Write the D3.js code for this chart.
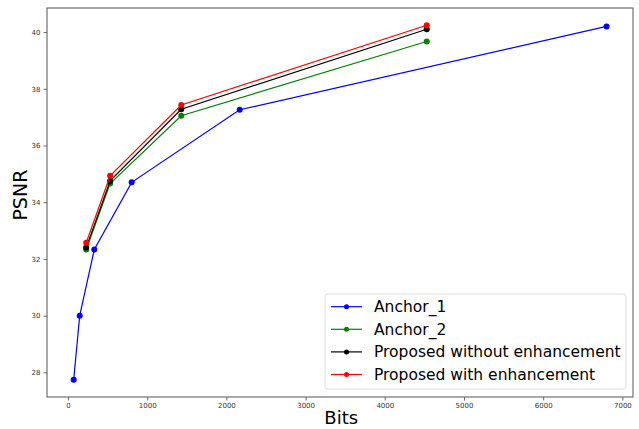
<!DOCTYPE html>
<html>
<head>
<meta charset="utf-8">
<script src="https://cdn.jsdelivr.net/npm/d3@7"></script>
<style>
  body { margin: 0; background: #fff; }
  svg { display: block; font-family: "DejaVu Sans", sans-serif; }
</style>
</head>
<body>
<div id="chart"></div>
<script>
// --- Data ---
const anchor1Bits = [72, 148, 332, 804, 2168, 6800];
const anchor1Psnr = [27.74, 30.0, 32.33, 34.7, 37.26, 40.2];

const anchor2Bits = [230, 532, 1430, 4530];
const anchor2Psnr = [32.33, 34.66, 37.05, 39.67];

const noEnhBits = [230, 532, 1430, 4530];
const noEnhPsnr = [32.4, 34.75, 37.28, 40.1];

const enhBits = [230, 532, 1430, 4530];
const enhPsnr = [32.57, 34.93, 37.43, 40.24];

const seriesNames = ["Anchor_1", "Anchor_2", "Proposed without enhancement", "Proposed with enhancement"];
const seriesColors = ["#0000ff", "#008000", "#000000", "#ff0000"];

const xTicks = [0, 1000, 2000, 3000, 4000, 5000, 6000, 7000];
const yTicks = [28, 30, 32, 34, 36, 38, 40];

const series = [
    { name: seriesNames[0], color: seriesColors[0], pts: anchor1Bits.map((b, i) => ({ x: b, y: anchor1Psnr[i] })) },
    { name: seriesNames[1], color: seriesColors[1], pts: anchor2Bits.map((b, i) => ({ x: b, y: anchor2Psnr[i] })) },
    { name: seriesNames[2], color: seriesColors[2], pts: noEnhBits.map((b, i) => ({ x: b, y: noEnhPsnr[i] })) },
    { name: seriesNames[3], color: seriesColors[3], pts: enhBits.map((b, i) => ({ x: b, y: enhPsnr[i] })) }
];

const W = 639, H = 429;
const margin = { top: 8, right: 6, bottom: 32, left: 47 };
const width = W - margin.left - margin.right;
const height = H - margin.top - margin.bottom;

const svg = d3.select("#chart").append("svg")
    .attr("width", W)
    .attr("height", H);

const g = svg.append("g")
    .attr("transform", `translate(${margin.left},${margin.top})`);

const x = d3.scaleLinear().domain([-265, 7134]).range([0, width]);
const y = d3.scaleLinear().domain([27.13, 40.85]).range([height, 0]);

// axes
const xAxis = g.append("g")
    .attr("transform", `translate(0,${height})`)
    .call(d3.axisBottom(x).tickValues(xTicks).tickFormat(d3.format("d")).tickSize(3.5).tickPadding(3));
const yAxis = g.append("g")
    .call(d3.axisLeft(y).tickValues(yTicks).tickFormat(d3.format("d")).tickSize(3.5).tickPadding(3));

[xAxis, yAxis].forEach(ax => {
    ax.select(".domain").remove();
    ax.selectAll(".tick line").attr("stroke", "#444").attr("stroke-width", 0.8);
    ax.selectAll(".tick text")
        .attr("fill", "#333")
        .style("font-size", "7px")
        .style("font-family", "DejaVu Sans");
});

// frame
g.append("rect")
    .attr("width", width)
    .attr("height", height)
    .attr("fill", "none")
    .attr("stroke", "#555")
    .attr("stroke-width", 1);

// lines + markers
const line = d3.line().x(d => x(d.x)).y(d => y(d.y));

series.forEach(s => {
    g.append("path")
        .datum(s.pts)
        .attr("fill", "none")
        .attr("stroke", s.color)
        .attr("stroke-width", 1.2)
        .attr("d", line);
    g.selectAll(null)
        .data(s.pts)
        .enter().append("circle")
        .attr("cx", d => x(d.x))
        .attr("cy", d => y(d.y))
        .attr("r", 3)
        .attr("fill", s.color);
});

// axis titles
svg.append("text")
    .attr("x", margin.left + x(3450))
    .attr("y", 424)
    .attr("text-anchor", "middle")
    .style("font-size", "18px")
    .attr("fill", "#000")
    .text("Bits");

svg.append("text")
    .attr("transform", `translate(27,${margin.top + y(34.25)}) rotate(-90)`)
    .attr("text-anchor", "middle")
    .style("font-size", "19px")
    .attr("fill", "#000")
    .text("PSNR");

// legend
const legend = svg.append("g").attr("transform", "translate(325,294)");
legend.append("rect")
    .attr("width", 301)
    .attr("height", 95)
    .attr("rx", 3)
    .attr("fill", "#fff")
    .attr("fill-opacity", 0.8)
    .attr("stroke", "#ddd")
    .attr("stroke-width", 1);

series.forEach((s, i) => {
    const row = legend.append("g").attr("transform", `translate(0,${12.7 + i * 22.6})`);
    row.append("line")
        .attr("x1", 6).attr("x2", 37)
        .attr("stroke", s.color)
        .attr("stroke-width", 1.2);
    row.append("circle")
        .attr("cx", 21.5)
        .attr("r", 2.5)
        .attr("fill", s.color);
    row.append("text")
        .attr("x", 49)
        .attr("dy", "0.36em")
        .style("font-size", "15.5px")
        .attr("fill", "#000")
        .text(s.name);
});
</script>
</body>
</html>
